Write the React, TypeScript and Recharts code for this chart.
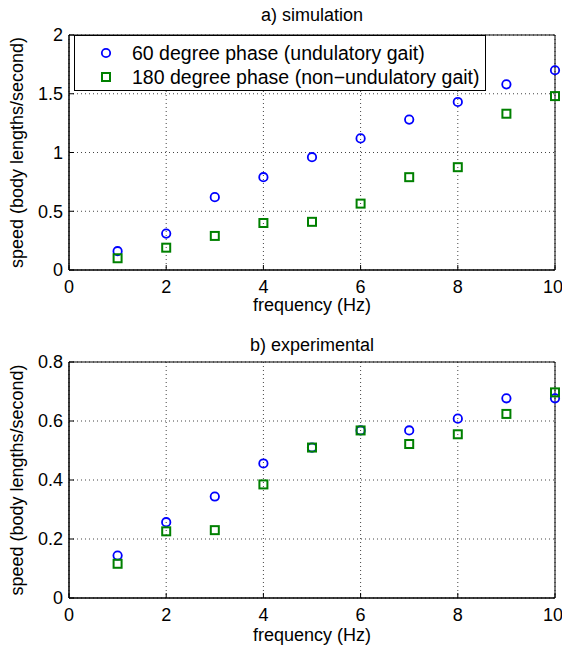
import { CartesianGrid, ReferenceArea, Scatter, ScatterChart, XAxis, YAxis } from 'recharts';

const freq = [1, 2, 3, 4, 5, 6, 7, 8, 9, 10];
const simUndulatory = [0.16, 0.31, 0.62, 0.79, 0.96, 1.12, 1.28, 1.43, 1.58, 1.70];
const simNonUndulatory = [0.10, 0.19, 0.29, 0.40, 0.41, 0.565, 0.79, 0.875, 1.33, 1.48];
const expUndulatory = [0.144, 0.257, 0.344, 0.456, 0.51, 0.568, 0.568, 0.608, 0.677, 0.677];
const expNonUndulatory = [0.116, 0.226, 0.23, 0.385, 0.51, 0.568, 0.522, 0.555, 0.624, 0.697];

const xTicks = [0, 2, 4, 6, 8, 10];
const simTicks = [0, 0.5, 1, 1.5, 2];
const expTicks = [0, 0.2, 0.4, 0.6, 0.8];

const legendLabels = ['60 degree phase (undulatory gait)', '180 degree phase (non\u2212undulatory gait)'];

const FONT = '"Liberation Sans", Arial, Helvetica, sans-serif';
const BLUE = '#0000ff';
const GREEN = '#008000';

const toPoints = (ys: number[]) => freq.map((x, i) => ({ x, y: ys[i] }));

const Circle = (p: any) => <circle cx={p.cx} cy={p.cy} r={4.2} fill="none" stroke={BLUE} strokeWidth={1.8} />;
const Square = (p: any) => (
  <rect x={p.cx - 4} y={p.cy - 4} width={8} height={8} fill="none" stroke={GREEN} strokeWidth={2} />
);

const tickStyle = { fontSize: 18, fill: '#000', fontFamily: FONT };

function Panel({
  top,
  height,
  yMax,
  yTicks,
  blue,
  green,
  xLabelOffset,
}: {
  top: number;
  height: number;
  yMax: number;
  yTicks: number[];
  blue: number[];
  green: number[];
  xLabelOffset: number;
}) {
  return (
    <ScatterChart
      width={562}
      height={height}
      margin={{ top, right: 7, bottom: 0, left: 0 }}
      style={{ position: 'absolute', left: 0, top: 0 }}
    >
      <CartesianGrid stroke="#444" strokeDasharray="1 3" verticalValues={xTicks} horizontalValues={yTicks} />
      <XAxis
        type="number"
        dataKey="x"
        domain={[0, 10]}
        ticks={xTicks}
        height={50}
        tickSize={-5}
        tickMargin={15}
        tick={tickStyle}
        stroke="#000"
        label={{ value: 'frequency (Hz)', position: 'insideBottom', offset: xLabelOffset, fontSize: 18, fill: '#000', fontFamily: FONT }}
      />
      <XAxis
        xAxisId="top"
        orientation="top"
        type="number"
        domain={[0, 10]}
        allowDataOverflow
        ticks={xTicks}
        height={0}
        tickSize={-5}
        tick={false}
        stroke="#000"
      />
      <YAxis
        type="number"
        dataKey="y"
        domain={[0, yMax]}
        ticks={yTicks}
        width={69}
        tickSize={-5}
        tickMargin={11}
        tick={tickStyle}
        stroke="#000"
        label={{
          value: 'speed (body lengths/second)',
          angle: -90,
          position: 'insideLeft',
          offset: 17,
          style: { textAnchor: 'middle' },
          fontSize: 18,
          fill: '#000',
          fontFamily: FONT,
        }}
      />
      <YAxis
        yAxisId="right"
        orientation="right"
        type="number"
        domain={[0, yMax]}
        allowDataOverflow
        ticks={yTicks}
        width={0}
        tickSize={-5}
        tick={false}
        stroke="#000"
      />
      <ReferenceArea x1={0} x2={10} y1={0} y2={yMax} fill="none" stroke="#000" strokeWidth={1} ifOverflow="visible" />
      <Scatter data={toPoints(blue)} shape={Circle} isAnimationActive={false} />
      <Scatter data={toPoints(green)} shape={Square} isAnimationActive={false} />
    </ScatterChart>
  );
}

export default function App() {
  return (
    <div style={{ position: 'absolute', left: 0, top: 0, width: 562, height: 648, background: '#fff', fontFamily: FONT }}>
      <div style={{ position: 'absolute', left: 0, top: 0, width: 562, height: 320 }}>
        <Panel top={35} height={320} yMax={2} yTicks={simTicks} blue={simUndulatory} green={simNonUndulatory} xLabelOffset={9} />
        <div style={{ position: 'absolute', left: 212, width: 200, top: 4, textAlign: 'center', fontSize: 18, lineHeight: '22px' }}>
          a) simulation
        </div>
        <div
          style={{
            position: 'absolute',
            left: 74,
            top: 35,
            width: 410,
            height: 54,
            border: '1px solid #000',
            background: '#fff',
            fontSize: 19.5,
          }}
        >
          {legendLabels.map((t, i) => (
            <div key={t} style={{ position: 'absolute', left: 0, top: i === 0 ? 5 : 29, height: 24, lineHeight: '24px', whiteSpace: 'nowrap' }}>
              <svg width={12} height={12} style={{ position: 'absolute', left: 25, top: 6 }}>
                {i === 0 ? (
                  <circle cx={6} cy={6} r={4.2} fill="none" stroke={BLUE} strokeWidth={1.8} />
                ) : (
                  <rect x={2} y={2} width={8} height={8} fill="none" stroke={GREEN} strokeWidth={2} />
                )}
              </svg>
              <span style={{ position: 'absolute', left: 57 }}>{t}</span>
            </div>
          ))}
        </div>
      </div>
      <div style={{ position: 'absolute', left: 0, top: 320, width: 562, height: 328 }}>
        <Panel top={42} height={328} yMax={0.8} yTicks={expTicks} blue={expUndulatory} green={expNonUndulatory} xLabelOffset={7} />
        <div style={{ position: 'absolute', left: 212, width: 200, top: 14, textAlign: 'center', fontSize: 18, lineHeight: '22px' }}>
          b) experimental
        </div>
      </div>
    </div>
  );
}
